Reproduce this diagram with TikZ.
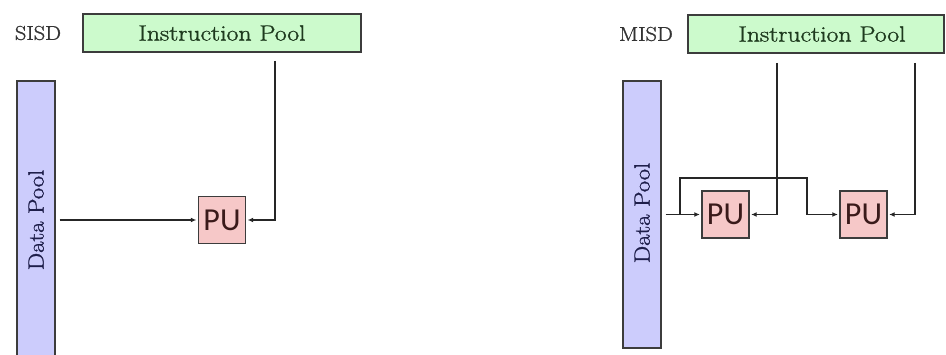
\documentclass[tikz,border=0pt]{standalone}
\usepackage{fontspec}
\newfontfamily\pufont{Carlito}
\newfontfamily\serif[FakeBold=1.2]{Latin Modern Roman}
\usetikzlibrary{arrows.meta}
\definecolor{ipfill}{HTML}{CCFACC}
\definecolor{dpfill}{HTML}{CCCCFC}
\definecolor{pufill}{HTML}{F6C8C8}
\definecolor{iptext}{HTML}{1E3A1E}
\definecolor{dptext}{HTML}{1E1E4A}
\definecolor{putext}{HTML}{3A1A1A}
\definecolor{edge}{HTML}{3C3C3C}
\begin{document}
\begin{tikzpicture}[x=1pt,y=1pt,
  box/.style={draw=edge, line width=1.4pt, inner sep=0pt},
  ipool/.style={box, fill=ipfill, text=iptext, minimum height=38pt,
    font=\serif\fontsize{22}{24}\selectfont},
  dpool/.style={box, fill=dpfill, minimum width=38pt},
  dtext/.style={rotate=90, text=dptext, font=\serif\fontsize{22}{24}\selectfont},
  pubox/.style={box, fill=pufill, text=putext, minimum width=47pt, minimum height=47pt,
    font=\pufont\fontsize{32}{34}\selectfont},
  lbl/.style={text=black!80, font=\serif\fontsize{20}{22}\selectfont, inner sep=0pt},
  conn/.style={draw=black!85, line width=1.2pt},
  arr/.style={conn, -{Latex[length=5.5pt,width=5pt]}}]
\useasboundingbox (0,0) rectangle (946,354);
\clip (0,0) rectangle (946,354);
\fill[white] (0,0) rectangle (946,354);

% ---------- SISD ----------
\node[lbl] (sisd) at (38,321) {\scalebox{1.12}[1]{SISD}};
\node[ipool, minimum width=278pt] (ip1) at (222,321) {\scalebox{1.17}[1]{Instruction Pool}};
\node[dpool, minimum height=283pt] (dp1) at (36,131.5) {};
\node[dtext] (dp1t) at (36,134) {\scalebox{1.12}[1]{Data Pool}};
\node[pubox] (pu1) at (222,134) {PU};
\coordinate (s1) at (275,293);
\draw[arr, shorten <=4pt, shorten >=1.5pt] (dp1.east |- pu1.west) -- (pu1.west);
\draw[arr, shorten >=1.5pt] (s1) |- (pu1.east);

% ---------- MISD ----------
\node[lbl] (misd) at (646,320) {\scalebox{1.12}[1]{MISD}};
\node[ipool, minimum width=256pt] (ip2) at (816,320) {\hspace*{12pt}\scalebox{1.17}[1]{Instruction Pool}};
\node[dpool, minimum height=267pt] (dp2) at (642,139.5) {};
\node[dtext] (dp2t) at (642,141) {\scalebox{1.12}[1]{Data Pool}};
\node[pubox] (pa) at (725.5,139.5) {PU};
\node[pubox] (pb) at (863.5,139.5) {PU};
\coordinate (br) at (680,139.5);
\coordinate (bu) at (680,176);
\coordinate (bd) at (807,176);
\coordinate (sa) at (777,291);
\coordinate (sb) at (915,291);
\draw[arr, shorten <=4pt, shorten >=1.5pt] (dp2.east |- pa.west) -- (pa.west);
\draw[arr, shorten >=1.5pt] (br) -- (bu) -- (bd) |- (pb.west);
\draw[arr, shorten >=1.5pt] (sa) |- (pa.east);
\draw[arr, shorten >=1.5pt] (sb) |- (pb.east);
\end{tikzpicture}
\end{document}
